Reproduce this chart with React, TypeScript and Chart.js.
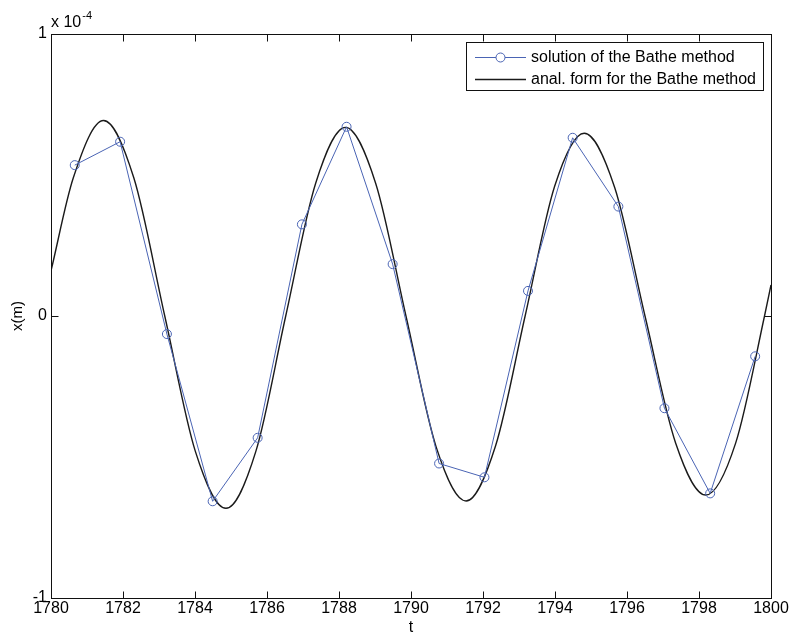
import React, { useEffect, useRef } from "react";
import { Chart, registerables } from "chart.js";

Chart.register(...registerables);

// Values in units of 1e-4 m
const solutionT = [1780.66, 1781.92, 1783.22, 1784.49, 1785.74, 1786.97, 1788.21, 1789.49, 1790.78, 1792.04, 1793.25, 1794.49, 1795.76, 1797.04, 1798.31, 1799.56];
const solutionX = [0.535, 0.618, -0.064, -0.657, -0.432, 0.325, 0.671, 0.184, -0.523, -0.572, 0.089, 0.632, 0.388, -0.327, -0.629, -0.143];

const analyticT = [1780.0, 1780.62, 1781.46, 1782.3, 1783.16, 1784.01, 1784.86, 1785.69, 1786.52, 1787.35, 1788.18, 1789.02, 1789.86, 1790.7, 1791.53, 1792.35, 1793.17, 1793.99, 1794.81, 1795.66, 1796.5, 1797.35, 1798.19, 1799.02, 1799.82, 1800.0];
const analyticX = [0.16, 0.49, 0.693, 0.49, 0.0, -0.48, -0.682, -0.48, 0.0, 0.47, 0.669, 0.47, 0.0, -0.465, -0.656, -0.46, 0.0, 0.46, 0.648, 0.455, 0.0, -0.45, -0.635, -0.45, 0.0, 0.11];

const xRange = [1780, 1800];
const yRange = [-1, 1];
const yTickLabels: Record<string, string> = { "-1": "-1", "0": "0", "1": "1" };
const legendLabels = ["solution of the Bathe method", "anal. form for the Bathe method"];
const exponentBase = "x 10";
const exponentPower = "-4";

const FONT = '"Liberation Sans", Arial, Helvetica, sans-serif';

const framePlugin = {
  id: "matlabFrame",
  afterDraw(chart: any) {
    const { ctx, chartArea: a, scales } = chart;
    const L = Math.round(a.left) + 0.5;
    const T = Math.round(a.top) + 0.5;
    const R = Math.round(a.right) + 0.5;
    const B = Math.round(a.bottom) + 0.5;
    ctx.save();
    ctx.strokeStyle = "#111";
    ctx.lineWidth = 1;
    ctx.strokeRect(L, T, R - L, B - T);
    const tl = 7;
    ctx.beginPath();
    scales.x.ticks.forEach((t: any) => {
      const px = Math.round(scales.x.getPixelForValue(t.value)) + 0.5;
      ctx.moveTo(px, B);
      ctx.lineTo(px, B - tl);
      ctx.moveTo(px, T);
      ctx.lineTo(px, T + tl);
    });
    scales.y.ticks.forEach((t: any) => {
      const py = Math.round(scales.y.getPixelForValue(t.value)) + 0.5;
      ctx.moveTo(L, py);
      ctx.lineTo(L + tl, py);
      ctx.moveTo(R, py);
      ctx.lineTo(R - tl, py);
    });
    ctx.stroke();

    // exponent label
    ctx.fillStyle = "#000";
    ctx.textAlign = "left";
    ctx.textBaseline = "alphabetic";
    ctx.font = `16px ${FONT}`;
    ctx.fillText(exponentBase, a.left, a.top - 7);
    const w = ctx.measureText(exponentBase).width;
    ctx.font = `11px ${FONT}`;
    ctx.fillText(exponentPower, a.left + w + 1, a.top - 15);

    // legend
    const lx0 = 466.5, ly0 = 42.5, lx1 = 763.5, ly1 = 90.5;
    ctx.fillStyle = "#fff";
    ctx.fillRect(lx0, ly0, lx1 - lx0, ly1 - ly0);
    ctx.strokeStyle = "#111";
    ctx.strokeRect(lx0, ly0, lx1 - lx0, ly1 - ly0);
    const rows = [57, 79];
    chart.data.datasets.forEach((ds: any, i: number) => {
      const y = rows[i] + 0.5;
      ctx.strokeStyle = ds.borderColor;
      ctx.lineWidth = ds.borderWidth;
      ctx.beginPath();
      ctx.moveTo(475, y);
      ctx.lineTo(526, y);
      ctx.stroke();
      if (ds.pointRadius > 0) {
        ctx.lineWidth = 1;
        ctx.beginPath();
        ctx.arc(500.5, y, ds.pointRadius, 0, Math.PI * 2);
        ctx.fillStyle = "#fff";
        ctx.fill();
        ctx.stroke();
      }
      ctx.fillStyle = "#000";
      ctx.font = `16px ${FONT}`;
      ctx.textBaseline = "middle";
      ctx.fillText(ds.label, 531, y);
    });
    ctx.restore();
  },
};

export default function App() {
  const ref = useRef<HTMLCanvasElement | null>(null);
  useEffect(() => {
    if (!ref.current) return;
    Chart.defaults.font.family = FONT;
    const chart = new Chart(ref.current, {
      type: "line",
      data: {
        datasets: [
          {
            label: legendLabels[0],
            data: solutionT.map((t, i) => ({ x: t, y: solutionX[i] })),
            borderColor: "#4a64b4",
            borderWidth: 1,
            pointRadius: 4.5,
            pointStyle: "circle",
            pointBorderColor: "#4a64b4",
            pointBackgroundColor: "rgba(0,0,0,0)",
            pointBorderWidth: 1,
            tension: 0,
            order: 1,
          },
          {
            label: legendLabels[1],
            data: analyticT.map((t, i) => ({ x: t, y: analyticX[i] })),
            borderColor: "#1a1a1a",
            borderWidth: 1.4,
            pointRadius: 0,
            cubicInterpolationMode: "monotone",
            order: 2,
          },
        ],
      },
      options: {
        responsive: false,
        animation: false,
        layout: { padding: { top: 34, right: 23, left: 0, bottom: 0 } },
        plugins: { legend: { display: false }, tooltip: { enabled: false } },
        scales: {
          x: {
            type: "linear",
            min: xRange[0],
            max: xRange[1],
            afterFit: (s: any) => { s.height = 43; },
            grid: { display: false, drawTicks: false },
            border: { display: false },
            ticks: {
              stepSize: 2,
              color: "#000",
              font: { size: 16 },
              padding: 1,
              maxRotation: 0,
              autoSkip: false,
              callback: (v: any) => String(Math.round(Number(v))),
            },
            title: { display: true, text: "t", color: "#000", font: { size: 16 }, padding: { top: 0, bottom: 4 } },
          },
          y: {
            type: "linear",
            min: yRange[0],
            max: yRange[1],
            afterFit: (s: any) => { s.width = 51; },
            grid: { display: false, drawTicks: false },
            border: { display: false },
            ticks: {
              stepSize: 1,
              color: "#000",
              font: { size: 16 },
              padding: 4,
              callback: (v: any) => yTickLabels[String(Math.round(Number(v)))] ?? "",
            },
            title: { display: true, text: "x(m)", color: "#000", font: { size: 15 }, padding: { top: 9, bottom: 0 } },
          },
        },
      },
      plugins: [framePlugin],
    });
    return () => chart.destroy();
  }, []);
  return (
    <div style={{ position: "fixed", left: 0, top: 0, width: 794, height: 641, background: "#fff" }}>
      <canvas ref={ref} width={794} height={641} style={{ display: "block", width: 794, height: 641 }} />
    </div>
  );
}
